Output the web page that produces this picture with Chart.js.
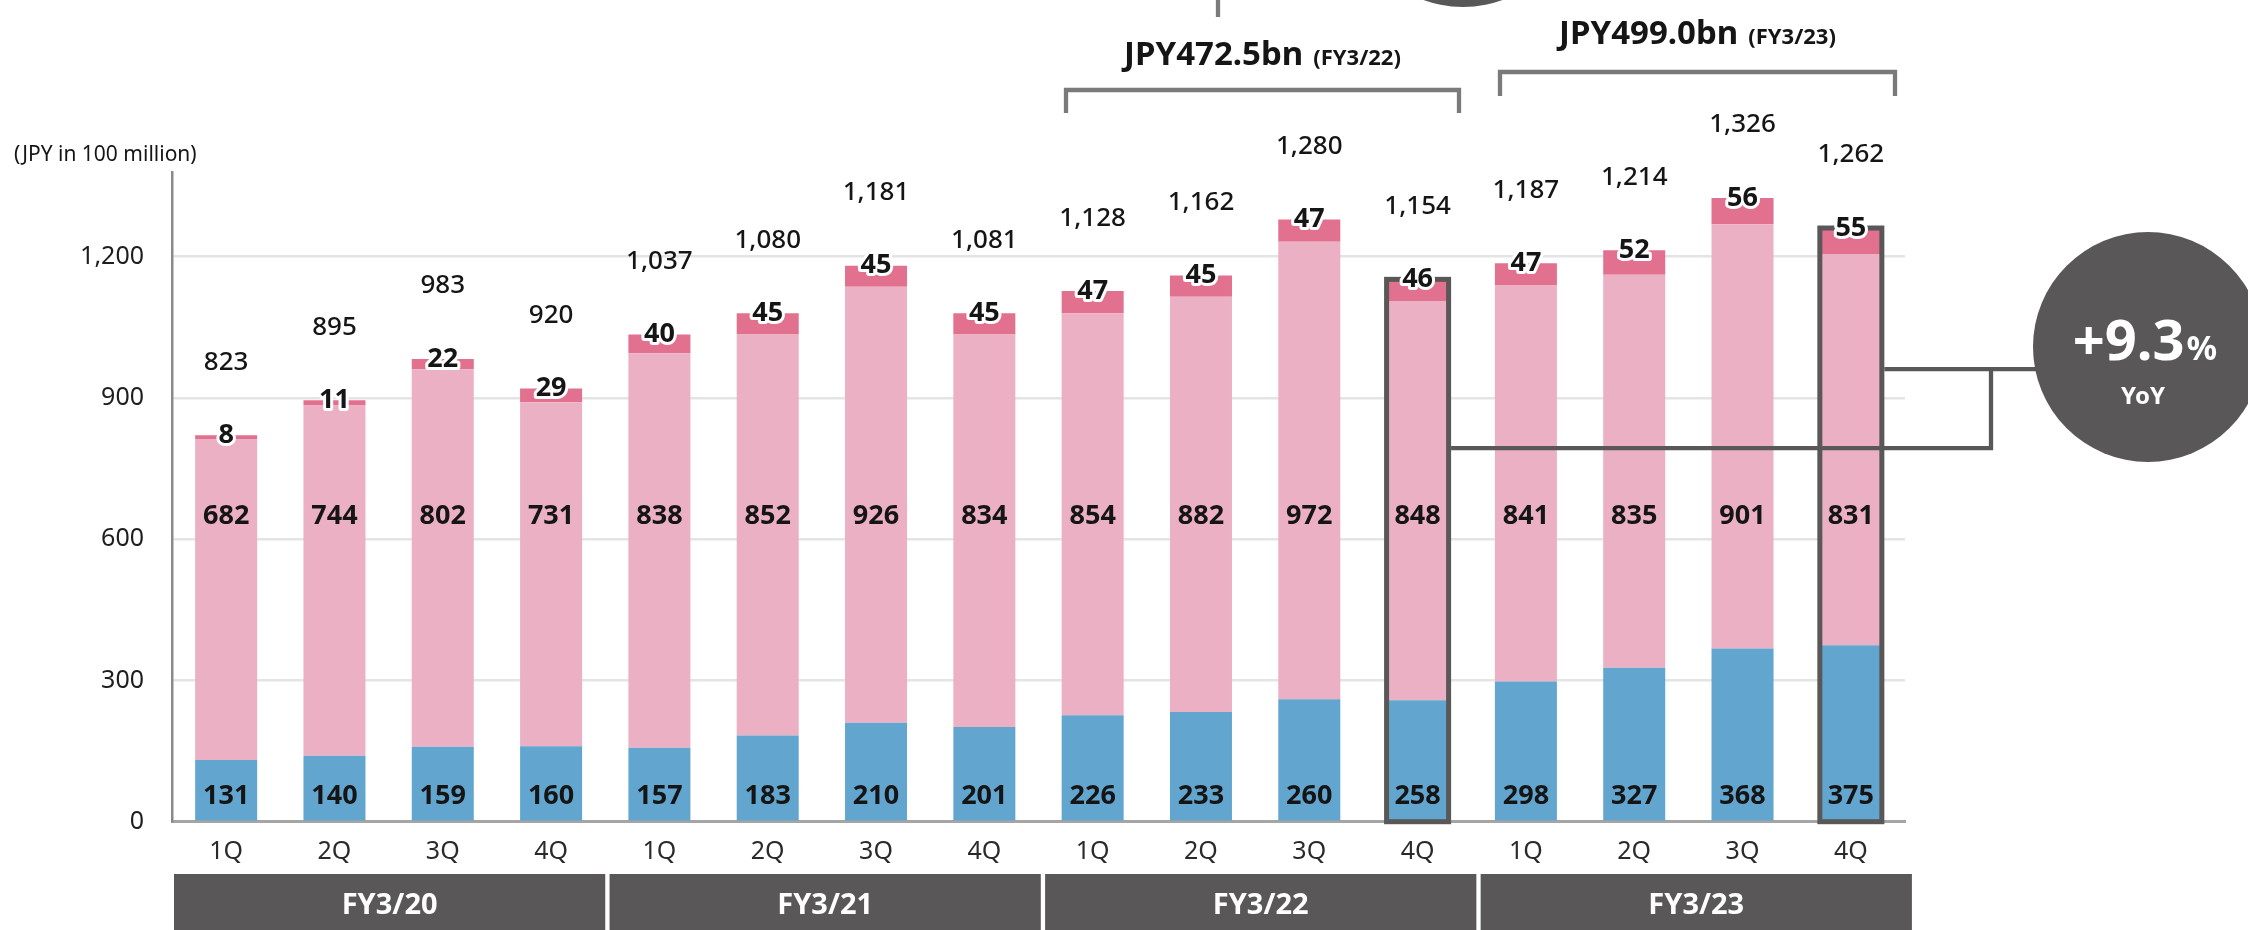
<!DOCTYPE html>
<html>
<head>
<meta charset="utf-8">
<script src="https://cdn.jsdelivr.net/npm/chart.js@4.4.1/dist/chart.umd.min.js"></script>
<style>
html,body{margin:0;padding:0;background:#fff;}
#wrap{width:2248px;height:930px;position:relative;overflow:hidden;}
</style>
</head>
<body>
<div id="wrap"><canvas id="c" width="2248" height="930"></canvas></div>
<script>
// ---------- data ----------
const quarters = ['1Q','2Q','3Q','4Q','1Q','2Q','3Q','4Q','1Q','2Q','3Q','4Q','1Q','2Q','3Q','4Q'];
const fiscalYears = ['FY3/20','FY3/21','FY3/22','FY3/23'];
const blueValues = [131,140,159,160,157,183,210,201,226,233,260,258,298,327,368,375];
const pinkValues = [682,744,802,731,838,852,926,834,854,882,972,848,841,835,901,831];
const darkValues = [8,11,22,29,40,45,45,45,47,45,47,46,47,52,56,55];
const totalValues = [823,895,983,920,1037,1080,1181,1081,1128,1162,1280,1154,1187,1214,1326,1262];
const yTickValues = [0,300,600,900,1200];
const highlightIndexes = [11,15];
const annualMain = ['JPY472.5bn','JPY499.0bn'];
const annualSub = ['(FY3/22)','(FY3/23)'];
const yoyMain = '+9.3';
const yoyPct = '%';
const yoyLabel = 'YoY';
const unitLabel = '(JPY in 100 million)';

// ---------- style ----------
const FONT = "'Noto Sans','Open Sans',sans-serif";
const C_BLUE = '#62a6cf';
const C_PINK = '#ecb0c4';
const C_DARK = '#e2708f';
const C_GREY = '#595757';
const C_TEXT = '#151515';

Chart.defaults.font.family = FONT;

const fmt = v => v.toLocaleString('en-US');

const overlay = {
  id: 'overlay',
  afterDatasetsDraw(chart) {
    const ctx = chart.ctx, ys = chart.scales.y, ca = chart.chartArea;
    const mB = chart.getDatasetMeta(0), mD = chart.getDatasetMeta(2);
    const base = ys.getPixelForValue(0);
    ctx.save();
    // highlight boxes
    ctx.strokeStyle = C_GREY; ctx.lineWidth = 5;
    highlightIndexes.forEach(i => {
      const b = mD.data[i];
      ctx.strokeRect(b.x - b.width/2, b.y, b.width, base - b.y);
    });
    // connectors
    const b1 = mD.data[highlightIndexes[0]], b2 = mD.data[highlightIndexes[1]];
    const yLow = ca.bottom - 373.5, yHigh = ca.bottom - 452.5, xV = 1991, xCircle = 2040;
    ctx.lineWidth = 4.3; ctx.strokeStyle = C_GREY; ctx.lineCap = 'butt';
    ctx.beginPath();
    ctx.moveTo(b1.x + b1.width/2 + 2.5, yLow);
    ctx.lineTo(xV, yLow);
    ctx.lineTo(xV, yHigh);
    ctx.moveTo(b2.x + b2.width/2 + 2.5, yHigh);
    ctx.lineTo(xCircle, yHigh);
    ctx.stroke();

    // labels
    ctx.textAlign = 'center'; ctx.textBaseline = 'middle';
    for (let i = 0; i < quarters.length; i++) {
      const bb = mB.data[i], bd = mD.data[i];
      ctx.fillStyle = C_TEXT;
      ctx.font = `bold 27px ${FONT}`;
      ctx.fillText(String(blueValues[i]), bb.x, ca.bottom - 25);
      ctx.fillText(String(pinkValues[i]), bb.x, ca.bottom - 305);
      // dark label with white halo
      ctx.lineWidth = 6; ctx.strokeStyle = '#fff'; ctx.lineJoin = 'round';
      ctx.strokeText(String(darkValues[i]), bd.x, bd.y);
      ctx.fillText(String(darkValues[i]), bd.x, bd.y);
      // total
      ctx.font = `500 26px ${FONT}`;
      ctx.fillText(fmt(totalValues[i]), bd.x, bd.y - 73);
    }
    ctx.restore();
  },
  afterDraw(chart) {
    const ctx = chart.ctx, xs = chart.scales.x, ca = chart.chartArea;
    const cw = xs.getPixelForValue(1) - xs.getPixelForValue(0);
    ctx.save();
    // FY boxes
    fiscalYears.forEach((fy, g) => {
      const left = ca.left + 2 + g * (4 * cw + 2.3);
      const w = 4 * cw - 2;
      ctx.fillStyle = C_GREY;
      ctx.fillRect(left, 874, w, 70);
      ctx.fillStyle = '#fff';
      ctx.font = `bold 29px ${FONT}`;
      ctx.textAlign = 'center'; ctx.textBaseline = 'middle';
      ctx.fillText(fy, left + w/2, 906);
    });
    // unit label
    ctx.fillStyle = C_TEXT; ctx.font = `21px ${FONT}`;
    ctx.textAlign = 'left'; ctx.textBaseline = 'middle';
    ctx.fillText(unitLabel, 14, 155);

    // brackets + annual totals
    const brackets = [
      {l:1066, r:1459, y:90, leg:113, ty:53},
      {l:1500, r:1895, y:72, leg:96, ty:32}
    ];
    brackets.forEach((br, k) => {
      ctx.strokeStyle = '#7a7a7a'; ctx.lineWidth = 4.3;
      ctx.beginPath();
      ctx.moveTo(br.l, br.leg); ctx.lineTo(br.l, br.y); ctx.lineTo(br.r, br.y); ctx.lineTo(br.r, br.leg);
      ctx.stroke();
      ctx.font = `bold 33px ${FONT}`;
      const w1 = ctx.measureText(annualMain[k]).width;
      ctx.font = `bold 22px ${FONT}`;
      const gap = 10;
      const w2 = ctx.measureText(annualSub[k]).width;
      const cx = (br.l + br.r) / 2;
      const x0 = cx - (w1 + gap + w2) / 2;
      ctx.fillStyle = C_TEXT; ctx.textAlign = 'left'; ctx.textBaseline = 'alphabetic';
      ctx.font = `bold 33px ${FONT}`;
      ctx.fillText(annualMain[k], x0, br.ty + 12);
      ctx.font = `bold 22px ${FONT}`;
      ctx.fillText(annualSub[k], x0 + w1 + gap, br.ty + 12);
    });
    // partial elements at the top edge
    ctx.strokeStyle = '#7a7a7a'; ctx.lineWidth = 4.3;
    ctx.beginPath(); ctx.moveTo(1218, 0); ctx.lineTo(1218, 17); ctx.stroke();
    ctx.fillStyle = C_GREY;
    ctx.beginPath(); ctx.arc(1463, -108, 115, 0, Math.PI * 2); ctx.fill();

    // YoY circle
    ctx.fillStyle = C_GREY;
    ctx.beginPath(); ctx.arc(2148, 347, 115, 0, Math.PI * 2); ctx.fill();
    ctx.fillStyle = '#fff'; ctx.textBaseline = 'alphabetic'; ctx.textAlign = 'left';
    ctx.font = `bold 56px ${FONT}`;
    const wm = ctx.measureText(yoyMain).width;
    ctx.font = `bold 34px ${FONT}`;
    const wp = ctx.measureText(yoyPct).width;
    const sx = 2145 - (wm + wp + 2) / 2;
    ctx.font = `bold 56px ${FONT}`;
    ctx.fillText(yoyMain, sx, 360);
    ctx.font = `bold 34px ${FONT}`;
    ctx.fillText(yoyPct, sx + wm + 2, 360);
    ctx.font = `bold 24px ${FONT}`;
    ctx.textAlign = 'center'; ctx.textBaseline = 'middle';
    ctx.fillText(yoyLabel, 2143, 397);
    ctx.restore();
  }
};

new Chart(document.getElementById('c'), {
  type: 'bar',
  data: {
    labels: quarters,
    datasets: [
      {label:'blue', data: blueValues, backgroundColor: C_BLUE},
      {label:'pink', data: pinkValues, backgroundColor: C_PINK},
      {label:'dark', data: darkValues, backgroundColor: C_DARK}
    ]
  },
  options: {
    responsive: false,
    devicePixelRatio: 1,
    animation: false,
    events: [],
    layout: {padding: {top: 172, right: 343, left: 0, bottom: 0}},
    datasets: {bar: {categoryPercentage: 1, barPercentage: 0.5725, borderWidth: 0}},
    plugins: {legend: {display: false}, tooltip: {enabled: false}, title: {display: false}},
    scales: {
      x: {
        stacked: true,
        grid: {display: false, drawTicks: false},
        border: {display: true, color: '#a5a5a5', width: 3},
        ticks: {color: '#2a2a2a', font: {size: 25}, padding: 15, maxRotation: 0, autoSkip: false},
        afterFit(s) { s.height = 108.3; }
      },
      y: {
        stacked: true,
        min: 0, max: 1380,
        grid: {color: '#e4e4e4', lineWidth: 2.5, drawTicks: false},
        border: {display: true, color: '#8a8a8a', width: 2.5},
        ticks: {color: '#1e1e1e', font: {size: 25}, padding: 28, callback: v => fmt(v)},
        afterBuildTicks(s) { s.ticks = yTickValues.map(v => ({value: v})); },
        afterFit(s) { s.width = 172; }
      }
    }
  },
  plugins: [overlay]
});
</script>
</body>
</html>
